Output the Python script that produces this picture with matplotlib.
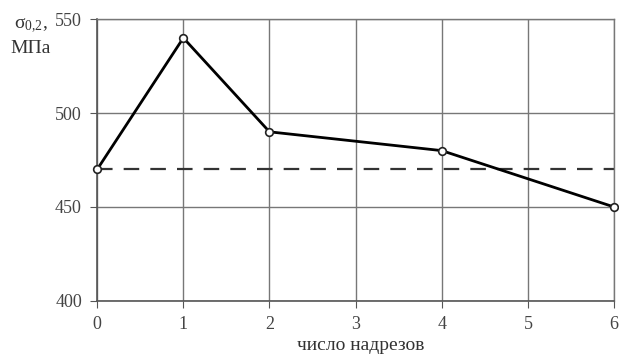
import matplotlib
matplotlib.use("Agg")
import matplotlib.pyplot as plt

# data
notches = [0, 1, 2, 4, 6]
sigma = [470, 540, 490, 480, 450]
base_level = 470

x_ticks = [0, 1, 2, 3, 4, 5, 6]
y_ticks = [400, 450, 500, 550]

plt.rcParams['font.family'] = ['Liberation Serif', 'DejaVu Serif']
plt.rcParams['font.size'] = 13

fig = plt.figure(figsize=(6.19, 3.54), dpi=100)
ax = fig.add_axes([0.157, 0.150, 0.835, 0.796])

ax.set_xlim(0, 6)
ax.set_ylim(400, 550)
ax.set_xticks(x_ticks)
ax.set_yticks(y_ticks)
ax.grid(True, color='#777777', linewidth=1.0)
ax.set_axisbelow(True)

for s in ['top', 'right']:
    ax.spines[s].set_color('#777777')
    ax.spines[s].set_linewidth(1.0)
for s in ['left', 'bottom']:
    ax.spines[s].set_color('#555555')
    ax.spines[s].set_linewidth(1.2)
ax.tick_params(direction='out', length=5, color='#555555', labelcolor='#444444', pad=6)

ax.axhline(base_level, color='#333333', linewidth=1.6, linestyle=(0, (7, 5)), zorder=2)
ax.plot(notches, sigma, color='black', linewidth=2.0, marker='o', markersize=5.5,
        markerfacecolor='white', markeredgecolor='#222222', markeredgewidth=1.2,
        clip_on=False, zorder=3)

fig.text(0.05, 0.929, r'$\mathregular{\sigma_{0{,}2}}$,', ha='center', va='center', fontsize=14, color='#333333')
fig.text(0.05, 0.862, 'МПа', ha='center', va='center', fontsize=14, color='#333333')
fig.text(0.583, 0.023, 'число надрезов', ha='center', va='center', fontsize=14, color='#333333')

fig.savefig('out.png', dpi=100)
